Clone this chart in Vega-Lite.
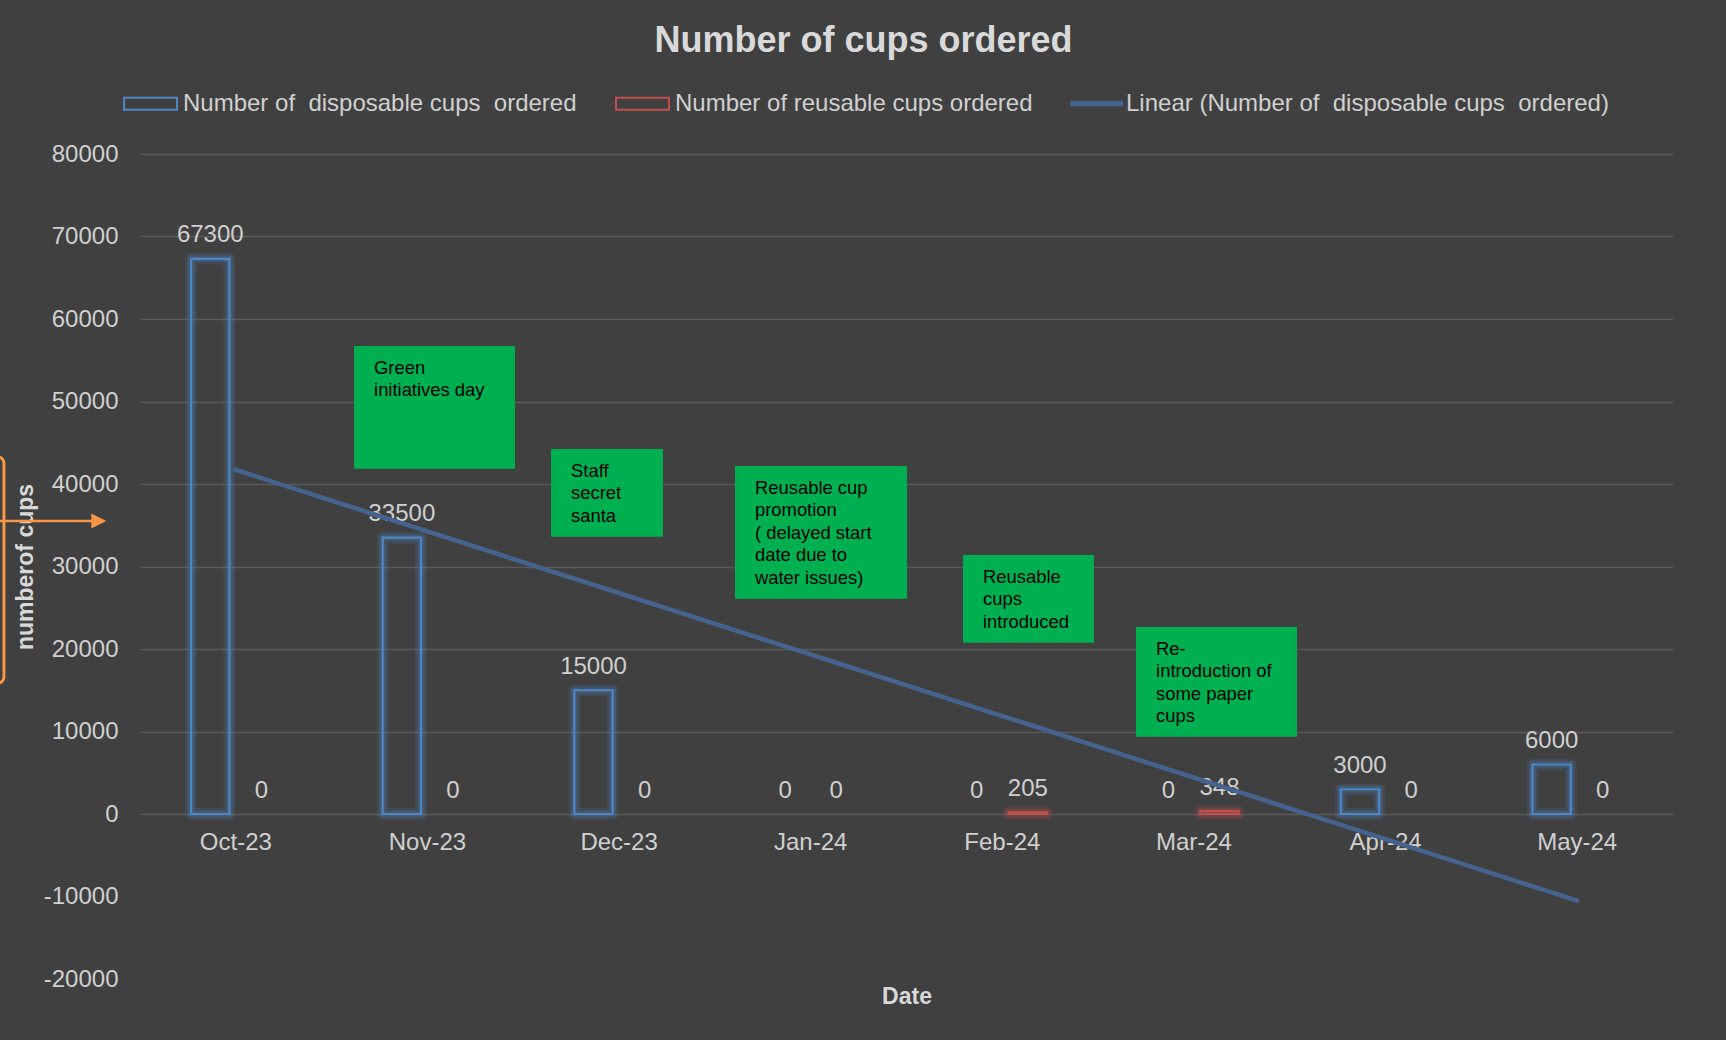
{
  "$schema": "https://vega.github.io/schema/vega-lite/v6.json",
  "width": 1533,
  "height": 825,
  "autosize": {"type": "none"},
  "padding": {"left": 140, "top": 154, "right": 53, "bottom": 61},
  "background": "#404040",
  "config": {
    "view": {"stroke": null},
    "font": "Liberation Sans"
  },
  "title": {
    "text": "Number of cups ordered",
    "fontSize": 36,
    "fontWeight": "bold",
    "color": "#d9d9d9",
    "font": "Liberation Sans",
    "anchor": "middle",
    "frame": "group",
    "baseline": "middle",
    "offset": -3,
    "dx": -43
  },
  "datasets": {
    "cups": [
      {"month": "Oct-23", "series": "Number of\u00a0 disposable cups\u00a0 ordered", "value": 67300},
      {"month": "Oct-23", "series": "Number of reusable cups ordered", "value": 0},
      {"month": "Nov-23", "series": "Number of\u00a0 disposable cups\u00a0 ordered", "value": 33500},
      {"month": "Nov-23", "series": "Number of reusable cups ordered", "value": 0},
      {"month": "Dec-23", "series": "Number of\u00a0 disposable cups\u00a0 ordered", "value": 15000},
      {"month": "Dec-23", "series": "Number of reusable cups ordered", "value": 0},
      {"month": "Jan-24", "series": "Number of\u00a0 disposable cups\u00a0 ordered", "value": 0},
      {"month": "Jan-24", "series": "Number of reusable cups ordered", "value": 0},
      {"month": "Feb-24", "series": "Number of\u00a0 disposable cups\u00a0 ordered", "value": 0},
      {"month": "Feb-24", "series": "Number of reusable cups ordered", "value": 205},
      {"month": "Mar-24", "series": "Number of\u00a0 disposable cups\u00a0 ordered", "value": 0},
      {"month": "Mar-24", "series": "Number of reusable cups ordered", "value": 348},
      {"month": "Apr-24", "series": "Number of\u00a0 disposable cups\u00a0 ordered", "value": 3000},
      {"month": "Apr-24", "series": "Number of reusable cups ordered", "value": 0},
      {"month": "May-24", "series": "Number of\u00a0 disposable cups\u00a0 ordered", "value": 6000},
      {"month": "May-24", "series": "Number of reusable cups ordered", "value": 0}
    ],
    "trend": [
      {"month": "Oct-23", "series": "Linear (Number of\u00a0 disposable cups\u00a0 ordered)", "value": 41708},
      {"month": "May-24", "series": "Linear (Number of\u00a0 disposable cups\u00a0 ordered)", "value": -10508}
    ],
    "notes": [
      {"x1": 1.117, "x2": 1.957, "y1": 56727, "y2": 41855, "lines": ["Green", "initiatives day"]},
      {"x1": 2.145, "x2": 2.729, "y1": 44242, "y2": 33612, "lines": ["Staff", "secret", "santa"]},
      {"x1": 3.105, "x2": 4.003, "y1": 42182, "y2": 26097, "lines": ["Reusable cup", "promotion", "( delayed start", "date due to", "water issues)"]},
      {"x1": 4.295, "x2": 4.978, "y1": 31394, "y2": 20764, "lines": ["Reusable", "cups", "introduced"]},
      {"x1": 5.198, "x2": 6.038, "y1": 22667, "y2": 9370, "lines": ["Re-", "introduction of", "some paper", "cups"]}
    ],
    "orangeBox": [
      {"x1": -1.2, "x2": -0.71, "y1": 43273, "y2": 15879}
    ],
    "arrow": [
      {"x1": -0.75, "x2": -0.215, "y": 35515}
    ]
  },
  "layer": [
    {
      "layer": [
        {
          "data": {"name": "cups"},
          "transform": [{"filter": "datum.value > 0"}],
          "mark": {"type": "bar", "fill": "transparent", "strokeWidth": 12, "strokeOpacity": 0.14, "strokeJoin": "round"},
          "encoding": {
            "x": {"field": "month", "type": "nominal", "sort": null, "scale": {"domain": ["Oct-23", "Nov-23", "Dec-23", "Jan-24", "Feb-24", "Mar-24", "Apr-24", "May-24"], "paddingInner": 0, "paddingOuter": 0}},
            "xOffset": {"field": "series", "type": "nominal", "scale": {"domain": ["Number of\u00a0 disposable cups\u00a0 ordered", "Number of reusable cups ordered"], "paddingInner": 0.25, "paddingOuter": 1.121}},
            "y": {"field": "value", "type": "quantitative", "scale": {"domain": [-20000, 80000], "nice": false, "zero": false}},
            "stroke": {"field": "series", "type": "nominal", "scale": {"domain": ["Number of\u00a0 disposable cups\u00a0 ordered", "Number of reusable cups ordered"], "range": ["#4f86c6", "#c0504d"]}}
          }
        },
        {
          "data": {"name": "cups"},
          "transform": [{"filter": "datum.value > 0"}],
          "mark": {"type": "bar", "fill": "transparent", "strokeWidth": 7, "strokeOpacity": 0.26, "strokeJoin": "round"},
          "encoding": {
            "x": {"field": "month", "type": "nominal", "sort": null, "scale": {"domain": ["Oct-23", "Nov-23", "Dec-23", "Jan-24", "Feb-24", "Mar-24", "Apr-24", "May-24"], "paddingInner": 0, "paddingOuter": 0}},
            "xOffset": {"field": "series", "type": "nominal", "scale": {"domain": ["Number of\u00a0 disposable cups\u00a0 ordered", "Number of reusable cups ordered"], "paddingInner": 0.25, "paddingOuter": 1.121}},
            "y": {"field": "value", "type": "quantitative", "scale": {"domain": [-20000, 80000], "nice": false, "zero": false}},
            "stroke": {"field": "series", "type": "nominal", "scale": {"domain": ["Number of\u00a0 disposable cups\u00a0 ordered", "Number of reusable cups ordered"], "range": ["#4f86c6", "#c0504d"]}}
          }
        },
        {
          "data": {"name": "cups"},
          "transform": [{"filter": "datum.value > 0"}],
          "mark": {"type": "bar", "fill": "transparent", "strokeWidth": 2.2},
          "encoding": {
            "x": {
              "field": "month", "type": "nominal", "sort": null,
              "scale": {"domain": ["Oct-23", "Nov-23", "Dec-23", "Jan-24", "Feb-24", "Mar-24", "Apr-24", "May-24"], "paddingInner": 0, "paddingOuter": 0},
              "axis": {
                "orient": "bottom",
                "title": "Date", "offset": -165, "domain": false, "ticks": false, "tickSize": 0, "grid": false,
                "labelAngle": 0, "labelAlign": "center", "labelPadding": 28.5, "labelBaseline": "middle", "labelFontSize": 24, "labelColor": "#d0d0d0", "labelFont": "Liberation Sans",
                "titleFontSize": 23, "titleFontWeight": "bold", "titleColor": "#d9d9d9", "titleFont": "Liberation Sans", "titleY": 182, "titleBaseline": "middle"
              }
            },
            "xOffset": {"field": "series", "type": "nominal", "scale": {"domain": ["Number of\u00a0 disposable cups\u00a0 ordered", "Number of reusable cups ordered"], "paddingInner": 0.25, "paddingOuter": 1.121}},
            "y": {
              "field": "value", "type": "quantitative",
              "scale": {"domain": [-20000, 80000], "nice": false, "zero": false},
              "axis": {
                "orient": "left",
                "title": "numberof cups",
                "values": [-20000, -10000, 0, 10000, 20000, 30000, 40000, 50000, 60000, 70000, 80000],
                "labelExpr": "datum.value + ''",
                "grid": true, "gridColor": "#5a5a5a", "gridWidth": 1.3,
                "gridOpacity": {"condition": {"test": "datum.value < 0", "value": 0}, "value": 1},
                "domain": false, "ticks": false, "labelPadding": 22, "labelFontSize": 24, "labelColor": "#d0d0d0", "labelFont": "Liberation Sans",
                "titleFontSize": 23, "titleFontWeight": "bold", "titleColor": "#d9d9d9", "titleFont": "Liberation Sans",
                "titleX": -115, "titleY": 412.5, "titleAlign": "center", "titleBaseline": "middle"
              }
            },
            "stroke": {
              "field": "series", "type": "nominal",
              "scale": {"domain": ["Number of\u00a0 disposable cups\u00a0 ordered", "Number of reusable cups ordered"], "range": ["#4f86c6", "#c0504d"]},
              "legend": {
                "title": null, "orient": "none", "direction": "horizontal", "legendX": -17, "legendY": -78, "padding": 0,
                "labelFontSize": 24, "labelColor": "#d0d0d0", "labelFont": "Liberation Sans", "labelOffset": 5, "labelLimit": 800,
                "columnPadding": 35, "symbolSize": 2809, "symbolStrokeWidth": 2, "symbolType": "M-1,-0.226H1V0.226H-1Z", "symbolFillColor": "transparent"
              }
            }
          }
        },
        {
          "data": {"name": "cups"},
          "mark": {"type": "text", "dy": -16.5, "baseline": "alphabetic", "align": "center", "fontSize": 24, "color": "#d0d0d0", "font": "Liberation Sans"},
          "encoding": {
            "x": {"field": "month", "type": "nominal", "sort": null, "scale": {"domain": ["Oct-23", "Nov-23", "Dec-23", "Jan-24", "Feb-24", "Mar-24", "Apr-24", "May-24"], "paddingInner": 0, "paddingOuter": 0}},
            "xOffset": {"field": "series", "type": "nominal", "scale": {"domain": ["Number of\u00a0 disposable cups\u00a0 ordered", "Number of reusable cups ordered"], "paddingInner": 0.25, "paddingOuter": 1.121}},
            "y": {"field": "value", "type": "quantitative", "scale": {"domain": [-20000, 80000], "nice": false, "zero": false}},
            "text": {"field": "value", "type": "quantitative", "format": "d"}
          }
        },
        {
          "data": {"name": "trend"},
          "mark": {"type": "line", "strokeWidth": 4.5, "strokeCap": "round"},
          "encoding": {
            "x": {"field": "month", "type": "nominal", "sort": null, "scale": {"domain": ["Oct-23", "Nov-23", "Dec-23", "Jan-24", "Feb-24", "Mar-24", "Apr-24", "May-24"], "paddingInner": 0, "paddingOuter": 0}},
            "y": {"field": "value", "type": "quantitative", "scale": {"domain": [-20000, 80000], "nice": false, "zero": false}},
            "color": {
              "field": "series", "type": "nominal",
              "scale": {"domain": ["Linear (Number of\u00a0 disposable cups\u00a0 ordered)"], "range": ["#44648f"]},
              "legend": {
                "title": null, "orient": "none", "direction": "horizontal", "legendX": 927, "legendY": -80, "padding": 0,
                "labelFontSize": 24, "labelColor": "#d0d0d0", "labelFont": "Liberation Sans", "labelOffset": 0, "labelLimit": 800,
                "symbolSize": 2809, "symbolStrokeWidth": 5.5, "symbolType": "stroke"
              }
            }
          }
        }
      ]
    },
    {
      "layer": [
        {
          "data": {"name": "notes"},
          "mark": {"type": "rect", "color": "#00b050"},
          "encoding": {
            "x": {"field": "x1", "type": "quantitative", "scale": {"domain": [0, 8], "nice": false, "zero": false}, "axis": null},
            "x2": {"field": "x2"},
            "y": {"field": "y1", "type": "quantitative", "scale": {"domain": [-20000, 80000], "nice": false, "zero": false}},
            "y2": {"field": "y2"}
          }
        },
        {
          "data": {"name": "notes"},
          "mark": {"type": "text", "align": "left", "baseline": "alphabetic", "dx": 20, "dy": 28, "fontSize": 18.4, "lineHeight": 22.4, "color": "#000000", "font": "Liberation Sans"},
          "encoding": {
            "x": {"field": "x1", "type": "quantitative", "scale": {"domain": [0, 8], "nice": false, "zero": false}, "axis": null},
            "y": {"field": "y1", "type": "quantitative", "scale": {"domain": [-20000, 80000], "nice": false, "zero": false}},
            "text": {"field": "lines", "type": "nominal"}
          }
        },
        {
          "data": {"name": "orangeBox"},
          "mark": {"type": "rect", "fill": "transparent", "stroke": "#f79646", "strokeWidth": 3, "cornerRadius": 6},
          "encoding": {
            "x": {"field": "x1", "type": "quantitative", "scale": {"domain": [0, 8], "nice": false, "zero": false}, "axis": null},
            "x2": {"field": "x2"},
            "y": {"field": "y1", "type": "quantitative", "scale": {"domain": [-20000, 80000], "nice": false, "zero": false}},
            "y2": {"field": "y2"}
          }
        },
        {
          "data": {"name": "arrow"},
          "mark": {"type": "rule", "color": "#f79646", "strokeWidth": 2.5},
          "encoding": {
            "x": {"field": "x1", "type": "quantitative", "scale": {"domain": [0, 8], "nice": false, "zero": false}, "axis": null},
            "x2": {"field": "x2"},
            "y": {"field": "y", "type": "quantitative", "scale": {"domain": [-20000, 80000], "nice": false, "zero": false}}
          }
        },
        {
          "data": {"name": "arrow"},
          "mark": {"type": "point", "shape": "M-1,-1L1,0L-1,1Z", "filled": true, "size": 225, "color": "#f79646", "opacity": 1},
          "encoding": {
            "x": {"field": "x2", "type": "quantitative", "scale": {"domain": [0, 8], "nice": false, "zero": false}, "axis": null},
            "y": {"field": "y", "type": "quantitative", "scale": {"domain": [-20000, 80000], "nice": false, "zero": false}}
          }
        }
      ]
    }
  ],
  "resolve": {"scale": {"x": "independent"}}
}
